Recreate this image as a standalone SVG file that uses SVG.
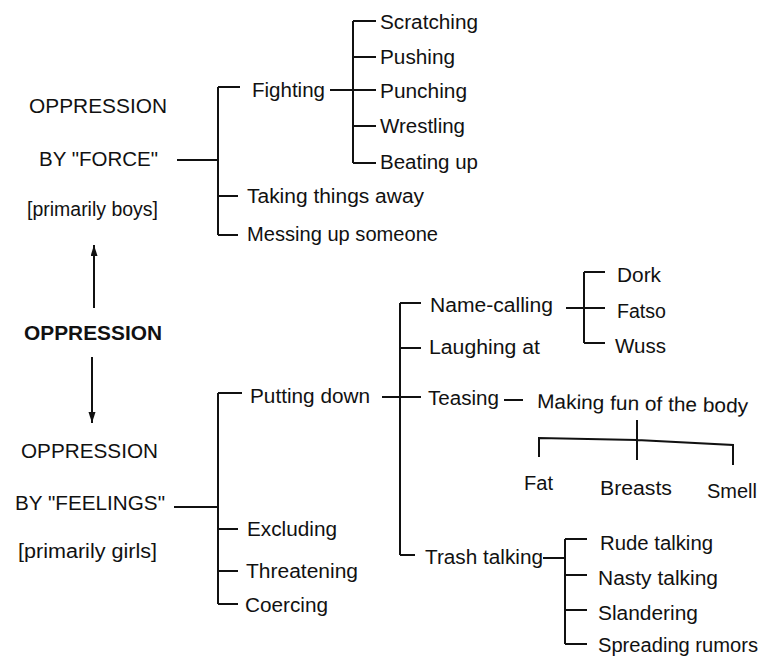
<svg xmlns="http://www.w3.org/2000/svg" width="763" height="665" viewBox="0 0 763 665">
<style>
text{font-family:"Liberation Sans",Arial,Helvetica,sans-serif;font-size:20px;fill:#111}
.b{font-weight:bold}
.c path{fill:none;stroke:#111;stroke-width:2}
</style>
<defs>
<marker id="ah" markerWidth="11" markerHeight="8" refX="11" refY="3.5" orient="auto" markerUnits="userSpaceOnUse"><path d="M0,0 L11,3.5 L0,7 Z" fill="#111"/></marker>
</defs>
<rect width="763" height="665" fill="#fff"/>
<g class="c" id="connectors">
<path d="M177,160 H218 M218,87 V235 M218,87 H240 M218,196 H238 M218,235 H238"/>
<path d="M330,90 H376 M353,21 V163 M353,21 H376 M353,57 H376 M353,126 H376 M353,163 H376"/>
<path d="M94,308 V245" marker-end="url(#ah)"/>
<path d="M92,357 V423" marker-end="url(#ah)"/>
<path d="M174,507 H218 M218,393 V604 M218,393 H242 M218,529 H238 M218,571 H238 M218,604 H238"/>
<path d="M382,397 H421 M400,303 V555 M400,303 H421 M400,348 H421 M400,555 H415 M504,400 H523"/>
<path d="M566,308 H605 M584,272 V343 M584,272 H605 M584,343 H605"/>
<path d="M637,420 V460 M539,457 V438 L637,440 L733,445 V465"/>
<path d="M543,558 H565 M565,539 V644 M565,539 H587 M565,575 H587 M565,610 H587 M565,644 H587"/>
</g>
<g id="n-force"><text x="29" y="113" textLength="138" lengthAdjust="spacingAndGlyphs">OPPRESSION</text><text x="39" y="166" textLength="119" lengthAdjust="spacingAndGlyphs">BY "FORCE"</text><text x="27" y="216" textLength="131" lengthAdjust="spacingAndGlyphs">[primarily boys]</text></g>
<g id="n-oppression"><text class="b" x="24" y="340" textLength="138" lengthAdjust="spacingAndGlyphs">OPPRESSION</text></g>
<g id="n-feelings"><text x="21" y="458" textLength="137" lengthAdjust="spacingAndGlyphs">OPPRESSION</text><text x="15" y="510" textLength="150" lengthAdjust="spacingAndGlyphs">BY "FEELINGS"</text><text x="18" y="558" textLength="139" lengthAdjust="spacingAndGlyphs">[primarily girls]</text></g>
<g id="n-fighting"><text x="252" y="97" textLength="73" lengthAdjust="spacingAndGlyphs">Fighting</text></g>
<g id="n-scratching"><text x="380" y="29" textLength="98" lengthAdjust="spacingAndGlyphs">Scratching</text></g>
<g id="n-pushing"><text x="380" y="64" textLength="75" lengthAdjust="spacingAndGlyphs">Pushing</text></g>
<g id="n-punching"><text x="380" y="98" textLength="87" lengthAdjust="spacingAndGlyphs">Punching</text></g>
<g id="n-wrestling"><text x="380" y="133" textLength="85" lengthAdjust="spacingAndGlyphs">Wrestling</text></g>
<g id="n-beating"><text x="380" y="169" textLength="98" lengthAdjust="spacingAndGlyphs">Beating up</text></g>
<g id="n-taking"><text x="247" y="203" textLength="177" lengthAdjust="spacingAndGlyphs">Taking things away</text></g>
<g id="n-messing"><text x="247" y="241" textLength="191" lengthAdjust="spacingAndGlyphs">Messing up someone</text></g>
<g id="n-putting"><text x="250" y="403" textLength="120" lengthAdjust="spacingAndGlyphs">Putting down</text></g>
<g id="n-excluding"><text x="247" y="536" textLength="90" lengthAdjust="spacingAndGlyphs">Excluding</text></g>
<g id="n-threatening"><text x="246" y="578" textLength="112" lengthAdjust="spacingAndGlyphs">Threatening</text></g>
<g id="n-coercing"><text x="245" y="612" textLength="83" lengthAdjust="spacingAndGlyphs">Coercing</text></g>
<g id="n-namecalling"><text x="430" y="312" textLength="123" lengthAdjust="spacingAndGlyphs">Name-calling</text></g>
<g id="n-laughing"><text x="429" y="354" textLength="111" lengthAdjust="spacingAndGlyphs">Laughing at</text></g>
<g id="n-teasing"><text x="428" y="405" textLength="71" lengthAdjust="spacingAndGlyphs">Teasing</text></g>
<g id="n-making"><text x="537" y="408" textLength="211" lengthAdjust="spacingAndGlyphs" transform="rotate(1.3 537 408)">Making fun of the body</text></g>
<g id="n-dork"><text x="617" y="282" textLength="44" lengthAdjust="spacingAndGlyphs">Dork</text></g>
<g id="n-fatso"><text x="617" y="318" textLength="49" lengthAdjust="spacingAndGlyphs">Fatso</text></g>
<g id="n-wuss"><text x="615" y="353" textLength="51" lengthAdjust="spacingAndGlyphs">Wuss</text></g>
<g id="n-fat"><text x="524" y="490" textLength="29" lengthAdjust="spacingAndGlyphs">Fat</text></g>
<g id="n-breasts"><text x="600" y="495" textLength="72" lengthAdjust="spacingAndGlyphs">Breasts</text></g>
<g id="n-smell"><text x="707" y="498" textLength="50" lengthAdjust="spacingAndGlyphs">Smell</text></g>
<g id="n-trash"><text x="425" y="564" textLength="118" lengthAdjust="spacingAndGlyphs">Trash talking</text></g>
<g id="n-rude"><text x="600" y="550" textLength="113" lengthAdjust="spacingAndGlyphs">Rude talking</text></g>
<g id="n-nasty"><text x="598" y="585" textLength="120" lengthAdjust="spacingAndGlyphs">Nasty talking</text></g>
<g id="n-slandering"><text x="598" y="620" textLength="100" lengthAdjust="spacingAndGlyphs">Slandering</text></g>
<g id="n-spreading"><text x="598" y="652" textLength="160" lengthAdjust="spacingAndGlyphs">Spreading rumors</text></g>
</svg>
